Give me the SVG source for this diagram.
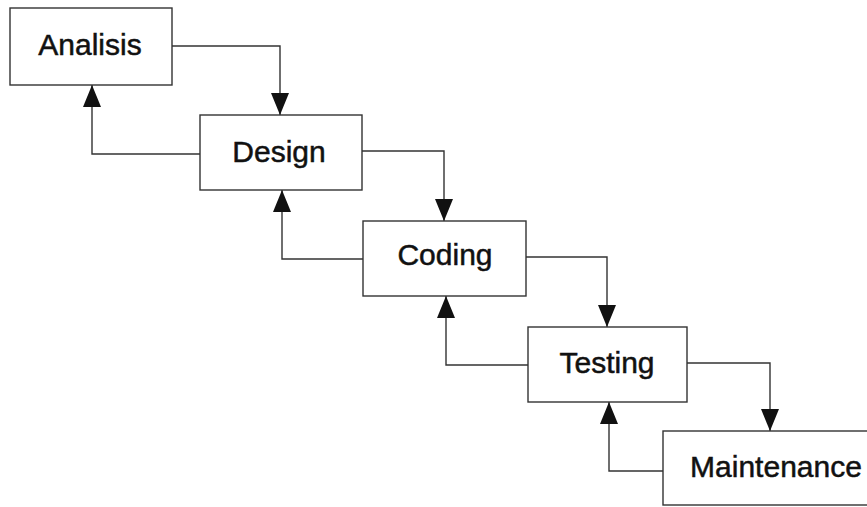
<svg xmlns="http://www.w3.org/2000/svg" width="867" height="507" viewBox="0 0 867 507">
<style>
.box{fill:#fff;stroke:#333;stroke-width:1.4}
.lbl{font-family:"Liberation Sans",Arial,sans-serif;font-size:30px;fill:#111;stroke:#111;stroke-width:0.5;text-anchor:middle}
.con{fill:none;stroke:#333;stroke-width:1.4}
</style>
<defs>
<marker id="ah" markerWidth="22" markerHeight="18" refX="22" refY="9" orient="auto" markerUnits="userSpaceOnUse" viewBox="0 0 22 18">
<path d="M0,0 L22,9 L0,18 Z" fill="#111"/>
</marker>
</defs>
<rect width="867" height="507" fill="#fff"/>
<g id="connectors">
<path class="con" d="M172,46 H280 V115" marker-end="url(#ah)"/>
<path class="con" d="M200,154 H92 V85" marker-end="url(#ah)"/>
<path class="con" d="M362,151 H444 V221" marker-end="url(#ah)"/>
<path class="con" d="M363,259 H282 V190" marker-end="url(#ah)"/>
<path class="con" d="M526,257 H607 V327" marker-end="url(#ah)"/>
<path class="con" d="M528,365 H446 V296" marker-end="url(#ah)"/>
<path class="con" d="M687,363 H770 V431" marker-end="url(#ah)"/>
<path class="con" d="M663,471 H609 V402" marker-end="url(#ah)"/>
</g>
<g id="analisis">
<rect class="box" x="10" y="8" width="162" height="77"/>
<text class="lbl" x="90" y="55">Analisis</text>
</g>
<g id="design">
<rect class="box" x="200" y="115" width="162" height="75"/>
<text class="lbl" x="279" y="162">Design</text>
</g>
<g id="coding">
<rect class="box" x="363" y="221" width="163" height="75"/>
<text class="lbl" x="445" y="265">Coding</text>
</g>
<g id="testing">
<rect class="box" x="528" y="327" width="159" height="75"/>
<text class="lbl" x="607" y="373">Testing</text>
</g>
<g id="maintenance">
<rect class="box" x="663" y="431" width="220" height="74"/>
<text class="lbl" x="776" y="477">Maintenance</text>
</g>
</svg>
